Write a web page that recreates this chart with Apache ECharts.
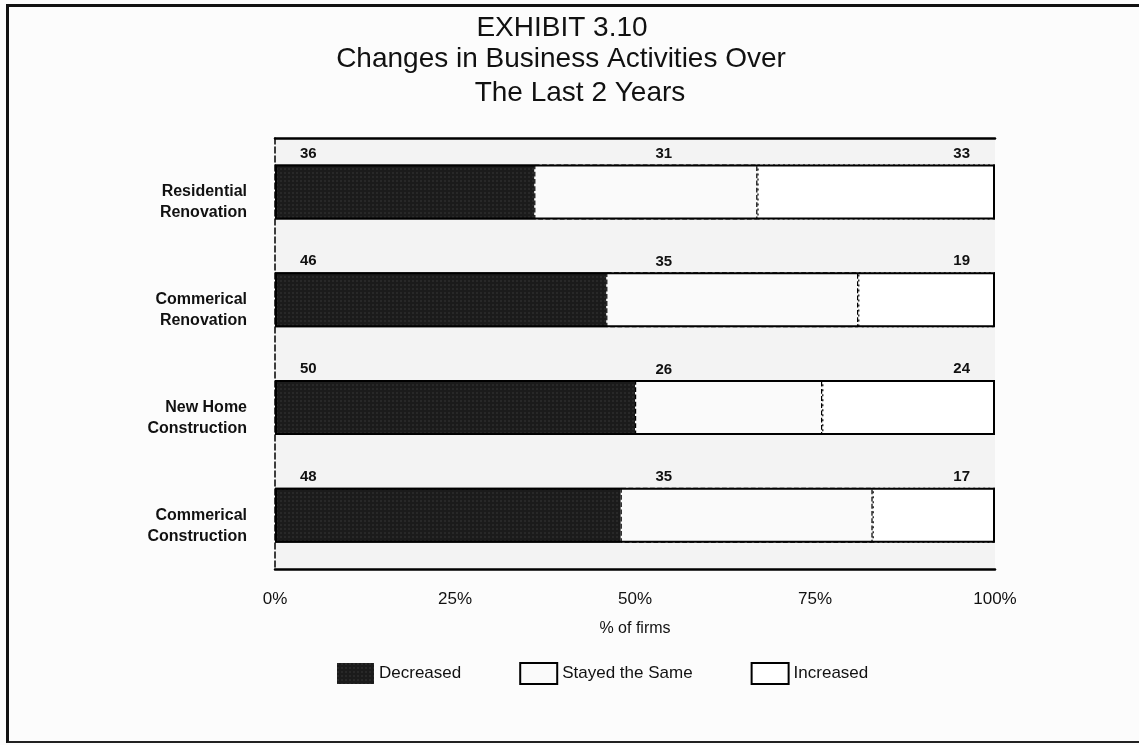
<!DOCTYPE html>
<html>
<head>
<meta charset="utf-8">
<script src="https://cdn.jsdelivr.net/npm/echarts@6/dist/echarts.min.js"></script>
<style>
  body { margin: 0; background: #fcfcfc; }
  #frame {
    position: absolute; left: 6px; top: 4px; width: 1140px; height: 739px;
    border-top: 3px solid #111; border-left: 3px solid #111; border-bottom: 2px solid #222;
    box-sizing: border-box;
  }
  #chart { position: absolute; left: 0; top: 0; width: 1139px; height: 745px; }
</style>
</head>
<body>
<div id="chart"></div>
<div id="frame"></div>
<script>
const categories = ['Residential\nRenovation', 'Commerical\nRenovation', 'New Home\nConstruction', 'Commerical\nConstruction']
const decreased = [36, 46, 50, 48]
const stayed = [31, 35, 26, 35]
const increased = [33, 19, 24, 17]
const seriesNames = ['Decreased', 'Stayed the Same', 'Increased']

const font = 'Liberation Sans, Arial, sans-serif'
const totals = decreased.map((d, i) => d + stayed[i] + increased[i])

const chart = echarts.init(document.getElementById('chart'))

const titleStyle = { fontSize: 28, fontWeight: 'normal', color: '#111', fontFamily: font }
const numStyle = { fontSize: 15, fontWeight: 'bold', color: '#111', fontFamily: font }

chart.setOption({
  backgroundColor: 'transparent',
  animation: false,
  title: [
    { text: 'EXHIBIT 3.10', left: 562, top: 14, textAlign: 'center', padding: 0, textStyle: titleStyle },
    { text: 'Changes in Business Activities Over', left: 561, top: 45, textAlign: 'center', padding: 0, textStyle: titleStyle },
    { text: 'The Last 2 Years', left: 580, top: 79, textAlign: 'center', padding: 0, textStyle: titleStyle }
  ],
  legend: {
    data: seriesNames,
    left: 332,
    top: 657,
    icon: 'rect',
    itemWidth: 37,
    itemHeight: 21,
    itemGap: 58,
    textStyle: { fontSize: 17, color: '#111', fontFamily: font }
  },
  grid: { left: 275, right: 144, top: 138, bottom: 176, show: true, backgroundColor: '#f3f3f3', borderWidth: 0 },
  xAxis: [
    {
      type: 'value', min: 0, max: 100, interval: 25, position: 'bottom',
      axisLine: { show: true, lineStyle: { color: '#000', width: 2.5 } },
      axisTick: { show: false },
      axisLabel: { formatter: '{value}%', fontSize: 17, color: '#111', margin: 22, fontFamily: font },
      splitLine: { show: false },
      name: '% of firms', nameLocation: 'middle', nameGap: 52,
      nameTextStyle: { fontSize: 16, color: '#111', fontFamily: font }
    },
    {
      type: 'value', min: 0, max: 100, position: 'top',
      axisLine: { show: true, lineStyle: { color: '#000', width: 2.5 } },
      axisTick: { show: false }, axisLabel: { show: false }, splitLine: { show: false }
    }
  ],
  yAxis: {
    type: 'category',
    data: categories,
    inverse: true,
    axisLine: { show: true, lineStyle: { color: '#000', width: 1.5, type: 'dashed' } },
    axisTick: { show: false },
    axisLabel: {
      // a spacer line pushes the two-line names a little below the bar middle
      formatter: v => '{s| }\n' + v,
      rich: { s: { height: 20, fontSize: 4 } },
      fontSize: 16, fontWeight: 'bold', lineHeight: 21, color: '#111', margin: 28, fontFamily: font
    }
  },
  series: [
    {
      name: 'Decreased', type: 'bar', stack: 'firms', barWidth: 55, data: decreased,
      itemStyle: {
        color: '#1b1b1b',
        decal: { symbol: 'rect', symbolSize: 0.5, color: 'rgba(150,150,150,0.45)', dashArrayX: [2, 2], dashArrayY: [2, 2] }
      },
      label: Object.assign({ show: true, position: [25, -11], align: 'left', verticalAlign: 'middle' }, numStyle)
    },
    {
      name: 'Stayed the Same', type: 'bar', stack: 'firms', barWidth: 55, data: stayed,
      itemStyle: { color: '#fafafa', borderColor: '#000', borderWidth: 1.2, borderType: 'dashed' }
    },
    {
      name: 'Increased', type: 'bar', stack: 'firms', barWidth: 55, data: increased,
      itemStyle: { color: '#ffffff', borderColor: '#000', borderWidth: 1.2, borderType: [2, 3] },
      label: Object.assign({ show: true, position: ['100%', -11], offset: [-25, 0], align: 'right', verticalAlign: 'middle' }, numStyle)
    },
    {
      // outline of each full bar
      name: 'frame', type: 'bar', barWidth: 55, barGap: '-100%', data: totals, silent: true, z: 3,
      itemStyle: { color: 'transparent', borderColor: '#000', borderWidth: 2 }
    },
    {
      // labels of the middle segment sit at a fixed spot above each bar
      name: 'stayedLabels', type: 'scatter', symbolSize: 0, silent: true, z: 5,
      itemStyle: { opacity: 1 },
      data: stayed.map((v, i) => [54, i]),
      label: Object.assign({ show: true, position: 'inside', offset: [0, -38], formatter: p => stayed[p.dataIndex],
        textBorderWidth: 0 }, numStyle)
    }
  ]
})
</script>
</body>
</html>
